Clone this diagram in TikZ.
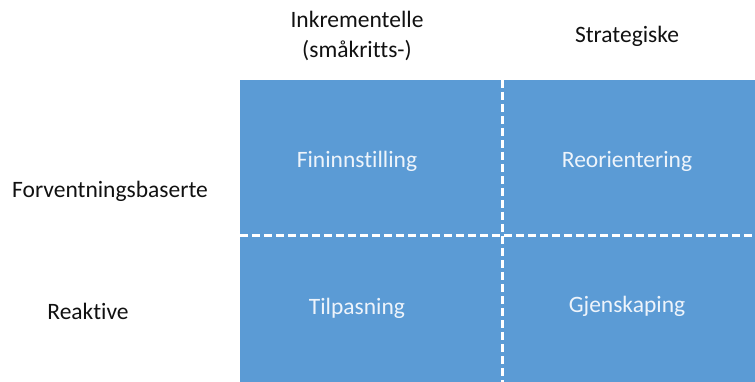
\documentclass[tikz,border=0pt]{standalone}
\usepackage{fontspec}
\setmainfont[Ligatures=NoCommon]{Carlito}
\definecolor{cellblue}{HTML}{5B9BD5}
\definecolor{celltext}{HTML}{EEF4FB}
\definecolor{labeltext}{HTML}{111111}
\begin{document}
\begin{tikzpicture}[x=1pt,y=-1pt,
  lbl/.style={font=\fontsize{23.5}{30}\selectfont, text=labeltext, align=center, inner sep=0pt},
  celllbl/.style={font=\fontsize{23.5}{30}\selectfont, text=celltext, inner sep=0pt},
  divider/.style={draw=white, line width=3pt, dash pattern=on 8pt off 4pt}]
  \useasboundingbox (0,0) rectangle (755,382);
  % matrix background
  \fill[cellblue] (240,80) rectangle (755,382);
  % dividers
  \coordinate (vtop) at (502,80);
  \coordinate (vbot) at (502,382);
  \coordinate (hleft) at (240,236);
  \coordinate (hright) at (755,236);
  \draw[divider] (vtop) -- (vbot);
  \draw[divider] (hleft) -- (hright);
  % column headers
  \node[lbl] (colA) at (357,36) {Inkrementelle\\(småkritts-)};
  \node[lbl] (colB) at (627,36) {Strategiske};
  % row headers
  \node[lbl] (rowA) at (110,191) {Forventningsbaserte};
  \node[lbl] (rowB) at (88,311) {Reaktive};
  % cells
  \node[celllbl] (c11) at (357,161) {Fininnstilling};
  \node[celllbl] (c12) at (627,161) {Reorientering};
  \node[celllbl] (c21) at (357,308) {Tilpasning};
  \node[celllbl] (c22) at (627,306) {Gjenskaping};
\end{tikzpicture}
\end{document}
